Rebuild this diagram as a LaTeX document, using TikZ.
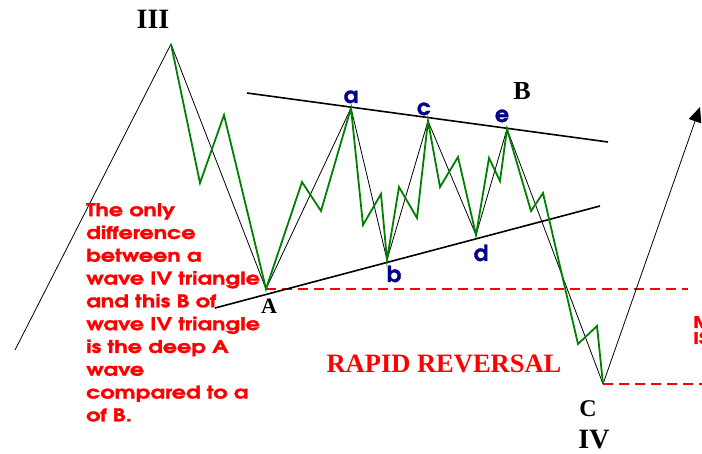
\documentclass[tikz,border=0pt]{standalone}
\usepackage{fontspec}
\usetikzlibrary{arrows.meta}
\newfontfamily\advfont[FakeBold=1.6, FakeStretch=1.27]{texgyreadventor-bold.otf}
\newfontfamily\advlab[FakeBold=1.4]{texgyreadventor-bold.otf}
\newfontfamily\timesfont{Liberation Serif}
\definecolor{wgreen}{RGB}{0,128,0}
\definecolor{navy}{RGB}{0,0,140}
\definecolor{rred}{RGB}{255,0,0}
\begin{document}
\begin{tikzpicture}[x=1pt,y=-1pt,
  thinline/.style={black, line width=0.8pt, line join=miter},
  greenline/.style={wgreen, line width=1.8pt, line join=miter},
  trend/.style={black, line width=1.6pt},
  reddash/.style={rred, line width=1.4pt, dash pattern=on 10pt off 6pt},
  serlabel/.style={font=\timesfont\bfseries\fontsize{26}{28}\selectfont, anchor=base, inner sep=0},
  bluelabel/.style={font=\advlab\fontsize{22}{24}\selectfont, text=navy, anchor=base, inner sep=0},
  redtext/.style={font=\advfont\fontsize{17.5}{22.8}\selectfont, text=rred, inner sep=0}
]
\clip (0,0) rectangle (702,454);
\fill[white] (0,0) rectangle (702,454);
% wave points
\coordinate (S) at (15,350);
\coordinate (III) at (171,44);
\coordinate (A) at (266,289);
\coordinate (a) at (351,108);
\coordinate (b) at (387,260);
\coordinate (c) at (428,121);
\coordinate (d) at (476,235);
\coordinate (e) at (507,129);
\coordinate (C) at (603,384);
\coordinate (T) at (700,107);
% trend lines
\coordinate (U1) at (247,93);
\coordinate (U2) at (608,142);
\coordinate (L1) at (215,308);
\coordinate (L2) at (600,206);
\coordinate (R1) at (688,289);
\coordinate (R2) at (702,384);
\draw[reddash] (A) -- (R1);
\draw[reddash] (C) -- (R2);
\draw[trend] (U1) -- (U2);
\draw[trend] (L1) -- (L2);
% black path
\draw[thinline] (S) -- (III) -- (A) -- (a) -- (b) -- (c) -- (d) -- (e) -- (C);
\draw[thinline, -{Triangle[length=15pt,width=13pt]}] (C) -- (T);
% green path
\draw[greenline] (III) -- (200,183) -- (224,115) -- (A) -- (302,182) -- (321,211) -- (a)
  -- (363,225) -- (381,194) -- (b) -- (399,187) -- (417,218) -- (c)
  -- (440,187) -- (458,157) -- (d) -- (489,158) -- (500,181) -- (e)
  -- (531,211) -- (543,193) -- (578,344) -- (597,326) -- (C);
% labels
\node[serlabel, font=\timesfont\bfseries\fontsize{28}{30}\selectfont] (lIII) at (153,29) {III};
\node[serlabel] (lB) at (522,100) {B};
\node[serlabel, font=\timesfont\bfseries\fontsize{22}{24}\selectfont] (lA) at (269,314) {A};
\node[serlabel, font=\timesfont\bfseries\fontsize{24}{26}\selectfont] (lC) at (588,417) {C};
\node[serlabel, font=\timesfont\bfseries\fontsize{28}{30}\selectfont] (lIV) at (594,449) {IV};
\node[bluelabel] (la) at (351,103) {a};
\node[bluelabel] (lc) at (424,115) {c};
\node[bluelabel] (le) at (502,122) {e};
\node[bluelabel] (lb) at (394,282) {b};
\node[bluelabel] (ld) at (481,261) {d};
\node[font=\timesfont\bfseries\fontsize{26.5}{28}\selectfont, text=rred, anchor=base, inner sep=0] (rr) at (444,373) {RAPID REVERSAL};
\node[redtext, anchor=north west, align=left] (txt) at (86,203) {The only\\difference\\between a\\wave IV triangle\\and this B of\\wave IV triangle\\is the deep A\\wave\\compared to a\\of B.};
\node[redtext, font=\advfont\fontsize{16}{16}\selectfont, anchor=base west] (m1) at (693,328) {M};
\node[redtext, font=\advfont\fontsize{16}{16}\selectfont, anchor=base west] (m2) at (693,344) {IS};
\end{tikzpicture}
\end{document}
